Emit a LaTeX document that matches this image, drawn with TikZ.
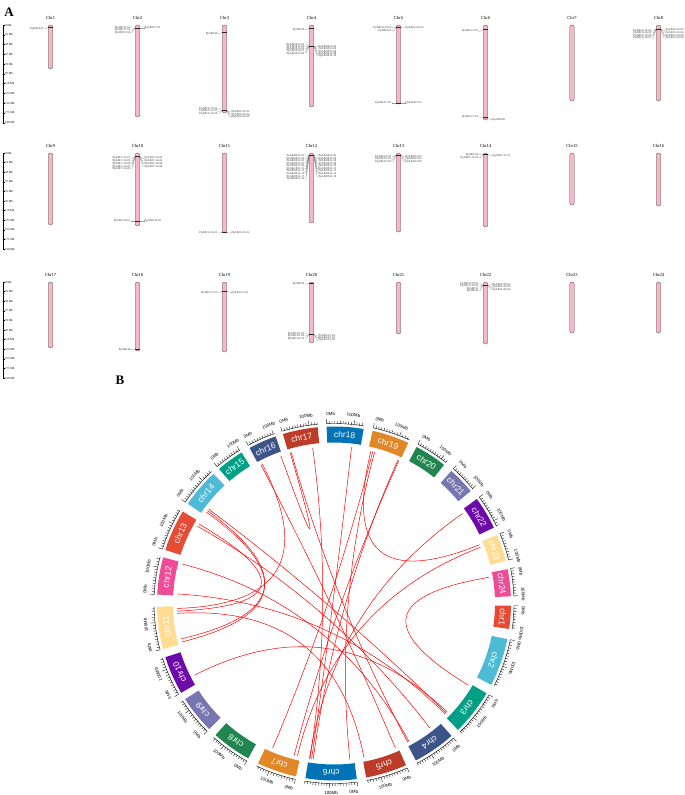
\documentclass[tikz,border=0pt]{standalone}
\usepackage{fontspec}
\setmainfont{Liberation Serif}
\newfontfamily\arialf{Liberation Sans}
\usepackage{tikz}
\usepackage{xcolor}
\tikzset{>=latex}
\usetikzlibrary{calc}

\definecolor{chrpink}{HTML}{F5B8C4}
\definecolor{cA}{HTML}{E64B35}
\definecolor{cB}{HTML}{4DBBD5}
\definecolor{cC}{HTML}{00A087}
\definecolor{cD}{HTML}{3C5488}
\definecolor{cE}{HTML}{BC3C29}
\definecolor{cF}{HTML}{0072B5}
\definecolor{cG}{HTML}{E18727}
\definecolor{cH}{HTML}{20854E}
\definecolor{cI}{HTML}{7876B1}
\definecolor{cJ}{HTML}{6C0BA9}
\definecolor{cK}{HTML}{FFDC91}
\definecolor{cL}{HTML}{EE4C97}

\tikzset{
  chrom/.style={draw=black!65, fill=chrpink, line width=0.35pt, rounded corners=2.2pt},
  ctitle/.style={font=\fontsize{4.6}{5}\selectfont, inner sep=0pt},
  glab/.style={font=\fontsize{2.9}{3}\selectfont, inner sep=0.1pt, text=black!80},
  gline/.style={line width=0.15pt, draw=black!55},
  gmark/.style={line width=0.4pt, draw=black!85},
  sclab/.style={font=\fontsize{3}{3.5}\selectfont, inner sep=0.3pt, anchor=west},
  chrlab/.style={font=\arialf\fontsize{8.5}{9}\selectfont, text=white, inner sep=0pt},
  ticklab/.style={font=\arialf\fontsize{4.4}{5}\selectfont, inner sep=0pt},
  link/.style={draw=red, line width=0.5pt},
}

% gene labels: x of chromosome, y of gene, y of label, text
\newcommand\gleft[4]{\draw[gmark] (#1-2.3,#2) -- (#1+2.3,#2);
  \draw[gline] (#1-2.3,#2) -- (#1-5.5,#3) -- (#1-7,#3) node[glab,anchor=east] {#4};}
\newcommand\gright[4]{\draw[gmark] (#1-2.3,#2) -- (#1+2.3,#2);
  \draw[gline] (#1+2.3,#2) -- (#1+5.5,#3) -- (#1+7,#3) node[glab,anchor=west] {#4};}
% fans: x, y of gene, y of first label, spacing, list
\newcommand\gfanl[5]{\foreach \t [count=\k from 0] in {#5} {\gleft{#1}{#2}{#3+#4*\k}{\t}}}
\newcommand\gfanr[5]{\foreach \t [count=\k from 0] in {#5} {\gright{#1}{#2}{#3+#4*\k}{\t}}}

\begin{document}
\begin{tikzpicture}[x=1pt, y=-1pt]
  \useasboundingbox (0,0) rectangle (685,795);

  % ---------- A ----------
  \node[font=\bfseries\fontsize{13}{13}\selectfont, inner sep=0pt] (lblA) at (9,12) {A};

  \foreach \r/\yt/\st in {1/25/9.77, 2/153/9.6, 3/282/9.6} {
    \draw[line width=0.4pt] (3,\yt) -- (3,\yt+10*\st);
    \foreach \i in {0,...,10} {
      \pgfmathtruncatemacro\v{19*\i}
      \draw[line width=0.3pt] (3,\yt+\i*\st) -- (4.6,\yt+\i*\st)
        node[sclab] (s\r-\i) {\v\ Mb};
    }
  }

  \foreach \i/\x/\ya/\yb in {1/50.5/25/69, 2/137.5/25/117, 3/224.5/25/113, 4/311.5/25/107,
      5/398.5/25/104, 6/485.5/25/120, 7/572/25/101, 8/658.5/25/101,
      9/50.5/153/225, 10/137.5/153/226, 11/224.5/153/233, 12/311.5/153/223,
      13/398.5/153/232, 14/485.5/153/227, 15/572/153/205, 16/658.5/153/206,
      17/50.5/282/348, 18/137.5/282/351, 19/224.5/282/352, 20/311.5/282/343,
      21/398.5/282/334, 22/485.5/282/344, 23/572/282/333, 24/658.5/282/333} {
    \draw[chrom] (\x-2.3,\ya) rectangle (\x+2.3,\yb);
    \node[ctitle] (t\i) at (\x,\ya-7.5) {Chr\i};
  }

  % Chr1 - Chr8
  \gleft{50.5}{27.5}{29}{PpABCI23}
  \gfanl{137.5}{28}{27.8}{2.4}{PpABCI7-01,PpABCI7-03,PpABCI7-04}
  \gright{137.5}{28}{28}{PpABCI7-02}
  \gleft{224.5}{32.5}{33.5}{PpABCI6}
  \gfanl{224.5}{110.5}{108.8}{2.4}{PpABCG15-01,PpABCG15-03,PpABCG15-05}
  \gfanr{224.5}{110.5}{112}{2.4}{PpABCG15-02,PpABCG15-04,PpABCG15-06}
  \gleft{311.5}{28.5}{29.7}{PpABCI5}
  \gfanl{311.5}{46}{44.4}{2.3}{PpABCB12-01,PpABCB12-03,PpABCB12-05,PpABCB12-07,PpABCB12-09}
  \gfanr{311.5}{46}{46.8}{2.3}{PpABCB12-02,PpABCB12-04,PpABCB12-06,PpABCB12-08,PpABCB12-10}
  \gfanl{398.5}{27.5}{27.8}{3}{PpABCG24-01,PpABCI21}
  \gright{398.5}{27.5}{28}{PpABCG24-02}
  \gleft{398.5}{103}{103}{PpABCF7-01}
  \gright{398.5}{103}{103}{PpABCF7-02}
  \gleft{485.5}{29.5}{31.2}{PpABCC3-01}
  \gleft{485.5}{117.5}{117}{PpABCC7-01}
  \gright{485.5}{117.5}{119.8}{PpABCE8}
  \gfanl{658.5}{29}{30.5}{2.6}{PpABCG16-01,PpABCG16-03,PpABCG16-05,PpABCG16-07}
  \gfanr{658.5}{29}{30.3}{2.6}{PpABCG16-02,PpABCG16-04,PpABCG16-06,PpABCG16-08}
  % Chr9 - Chr16
  \gfanl{137.5}{156.5}{158.3}{2.7}{PpABCC14-01,PpABCC14-03,PpABCC14-05,PpABCC14-07,PpABCC14-09}
  \gfanr{137.5}{156.5}{158.3}{2.7}{PpABCC14-02,PpABCC14-04,PpABCC14-06,PpABCC14-08}
  \gleft{137.5}{221}{221}{PpABCG9-01}
  \gright{137.5}{221}{221}{PpABCG9-02}
  \gleft{224.5}{232}{233}{PpABCG10-01}
  \gright{224.5}{232}{233}{PpABCG10-02}
  \gfanl{311.5}{155.5}{156}{2.55}{PpABCB11-01,PpABCB11-03,PpABCB11-05,PpABCB11-07,PpABCB11-09,PpABCB11-11,PpABCB11-13,PpABCB11-15,PpABCB11-17,PpABCB11-19}
  \gfanr{311.5}{155.5}{156}{2.55}{PpABCB11-02,PpABCB11-04,PpABCB11-06,PpABCB11-08,PpABCB11-10,PpABCB11-12,PpABCB11-14,PpABCB11-16,PpABCB11-18}
  \gfanl{398.5}{155}{156.8}{2.5}{PpABCF2-01,PpABCF2-03,PpABCF2-05}
  \gfanr{398.5}{155}{156.8}{2.5}{PpABCF2-02,PpABCF2-04,PpABCF2-06}
  \gfanl{485.5}{154.5}{154.8}{3}{PpABCG4,PpABCC11-02}
  \gright{485.5}{154.5}{156}{PpABCC11-01}
  % Chr17 - Chr24
  \gleft{137.5}{349}{349.5}{PpABCI4}
  \gleft{224.5}{291}{292.5}{PpABCC2-01}
  \gright{224.5}{291}{292.5}{PpABCC2-02}
  \gleft{311.5}{283.5}{284}{PpABCI3}
  \gfanl{311.5}{334.5}{333.6}{2.4}{PpABCA1-01,PpABCA1-03,PpABCA1-05}
  \gfanr{311.5}{334.5}{335.4}{2.4}{PpABCA1-02,PpABCA1-04,PpABCA1-06}
  \gfanl{485.5}{285}{283.6}{2.4}{PpABCG20-01,PpABCG20-03,PpABCI1,PpABCI2}
  \gfanr{485.5}{285}{284.8}{2.4}{PpABCG20-02,PpABCG20-04,PpABCG20-06}

  % ---------- B ----------
  \node[font=\bfseries\fontsize{13}{13}\selectfont, inner sep=0pt] (lblB) at (120,380) {B};

  \begin{scope}[shift={(334,603.5)}]
    \def\k{0.0879}
    \foreach \nm/\s/\len/\col in {chr1/0.72/86/cA, chr2/11.6/179/cB, chr3/30.5/171/cC,
        chr4/48.4/160/cD, chr5/66/154/cE, chr6/82.6/190/cF, chr7/102.4/148/cG,
        chr8/119/148/cH, chr9/134.8/142/cI, chr10/149.7/144/cJ, chr11/165.1/158/cK,
        chr12/182.9/139/cL, chr13/197.6/156/cA, chr14/214.3/146/cB, chr15/229.5/103/cC,
        chr16/241.5/105/cD, chr17/253.2/131/cE, chr18/267.6/137/cF, chr19/282.6/139/cG,
        chr20/297.8/121/cH, chr21/311.5/103/cI, chr22/323.8/123/cJ, chr23/337.2/101/cK,
        chr24/348.8/101/cL} {
      \pgfmathsetmacro\e{\s+\len*\k}
      \pgfmathsetmacro\m{(\s+\e)/2}
      \fill[\col] (\s:161) arc[start angle=\s, end angle=\e, radius=161]
        -- (\e:177) arc[start angle=\e, end angle=\s, radius=177] -- cycle;
      \node[chrlab, rotate={-(\m+90)}] (\nm) at (\m:169) {\nm};
      \draw[line width=0.4pt] (\s:180) arc[start angle=\s, end angle=\e, radius=180];
      \pgfmathtruncatemacro\nt{\len/10}
      \foreach \j in {0,...,\nt} {
        \pgfmathsetmacro\th{\s+10*\j*\k}
        \pgfmathsetmacro\tl{ifthenelse(\j==0 || \j==10, 184.5, 182.5)}
        \draw[line width=0.35pt] (\th:180) -- (\th:\tl);
      }
      % tick labels, nudged inwards along the arc
      \foreach \v/\dv/\txt in {0/1.4/0Mb, 100/-0.5/100Mb} {
        \pgfmathsetmacro\th{\s+\v*\k+\dv}
        \pgfmathsetmacro\fl{(\th>30)*(\th<150)}
        \pgfmathsetmacro\rt{-(\th+90)+180*\fl}
        \node[ticklab, rotate=\rt] (\nm-\v) at (\th:189.5) {\txt};
      }
    }
    % links
    \foreach \a/\b in {250.2/253.8, 242.2/67, 254.2/62, 262.2/98.8, 276.4/98.2,
        283.6/338, 284.3/113, 294/97.6, 294.4/104.7, 325/99, 339/103.5,
        350.4/31.3, 209.5/52.4, 215.6/165.8, 216.3/167, 217/44.3, 194.6/61.5,
        183.5/44.8, 178.2/242.8, 177.2/210.5, 152.8/43.8, 176.4/79, 84.2/285}
      \draw[link] (\a:157) .. controls (\a:52.3) and (\b:52.3) .. (\b:157);
  \end{scope}
\end{tikzpicture}
\end{document}
